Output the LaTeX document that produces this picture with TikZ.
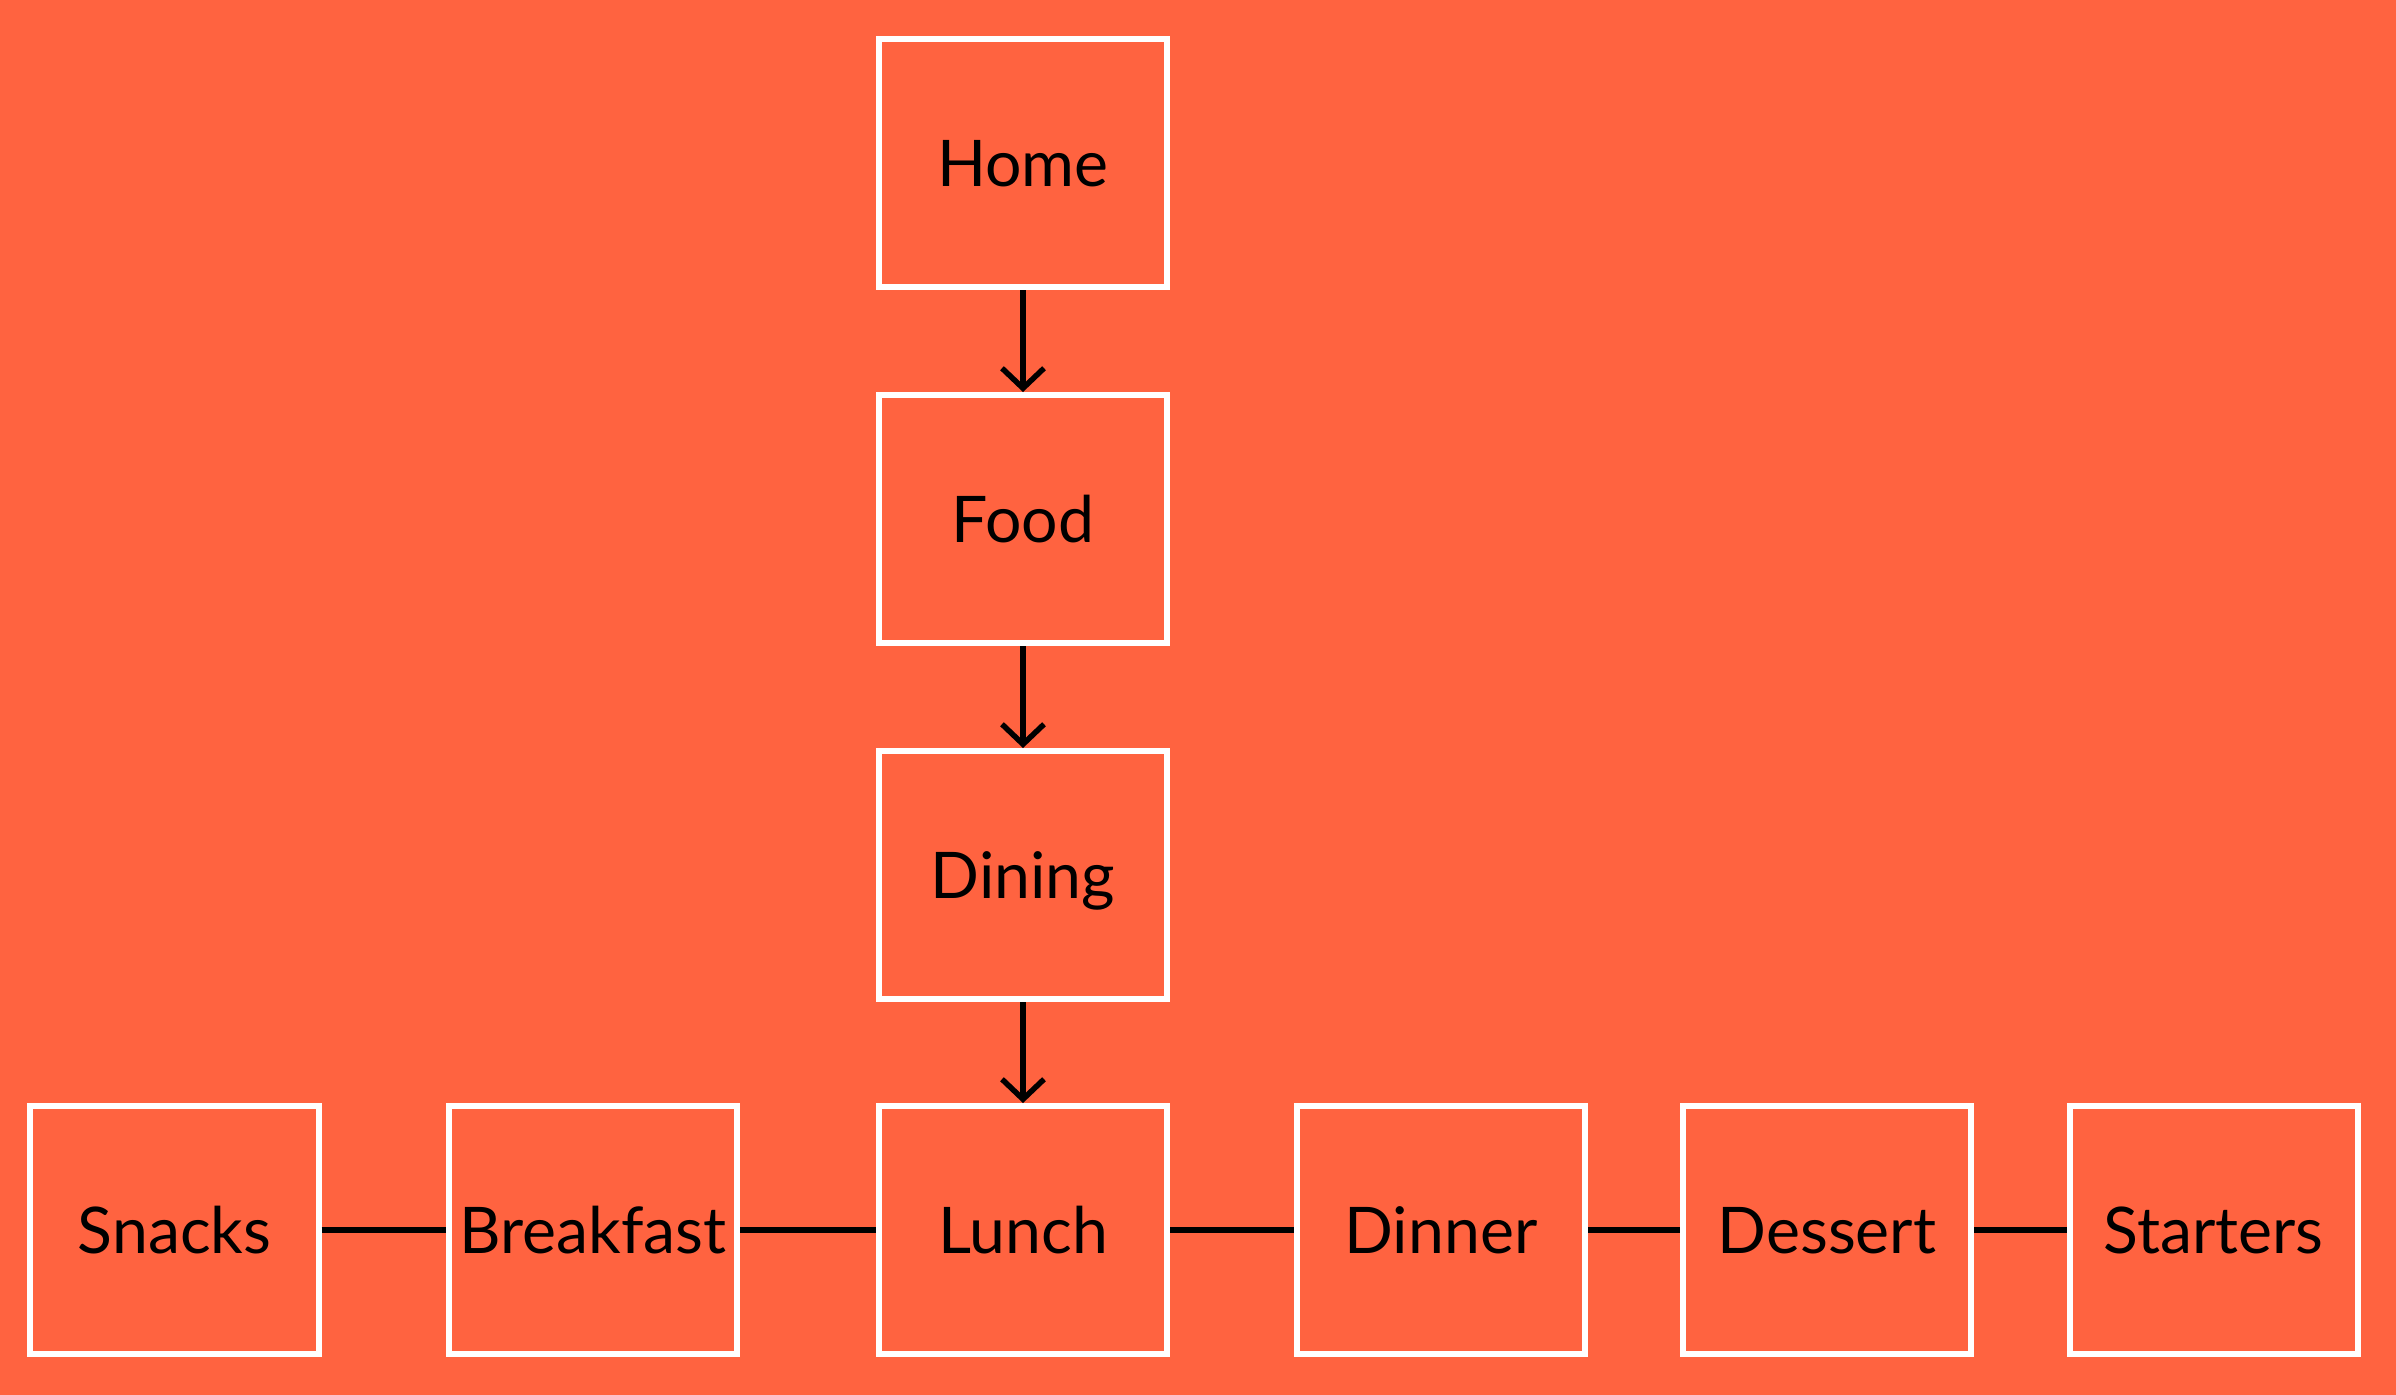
\documentclass[tikz,border=0pt]{standalone}
\usepackage{fontspec}
\setmainfont{Lato}
\usetikzlibrary{arrows.meta}
\definecolor{bgorange}{RGB}{255,99,64}

\begin{document}
\begin{tikzpicture}[
        box/.style={draw=white, line width=0.06cm, minimum width=2.88cm, minimum height=2.48cm, inner sep=0pt, text height=0.46cm, text depth=0cm, font=\fontsize{18.3}{18.3}\selectfont},
        link/.style={black, line width=0.065cm},
        flow/.style={black, line width=0.055cm, -{Straight Barb[length=0.2cm,width=0.42cm]}}]
        
        \useasboundingbox (0,0) rectangle (23.96,-13.94);
        \fill[bgorange] (-0.1,0.1) rectangle (24.06,-14.04);
        
        \node[box] (home) at (10.23,-1.63) {Home};
        \node[box] (food) at (10.23,-5.19) {Food};
        \node[box] (dining) at (10.23,-8.75) {Dining};
        
        \node[box] (snacks) at (1.745,-12.30) {Snacks};
        \node[box] (breakfast) at (5.93,-12.30) {Breakfast};
        \node[box] (lunch) at (10.23,-12.30) {Lunch};
        \node[box] (dinner) at (14.41,-12.30) {Dinner};
        \node[box] (dessert) at (18.27,-12.30) {Dessert};
        \node[box] (starters) at (22.135,-12.30) {Starters};
        
        \draw[flow] (home) -- (food);
        \draw[flow] (food) -- (dining);
        \draw[flow] (dining) -- (lunch);
        
        \draw[link] (snacks) -- (breakfast);
        \draw[link] (breakfast) -- (lunch);
        \draw[link] (lunch) -- (dinner);
        \draw[link] (dinner) -- (dessert);
        \draw[link] (dessert) -- (starters);
        
        \end{tikzpicture}
\end{document}
